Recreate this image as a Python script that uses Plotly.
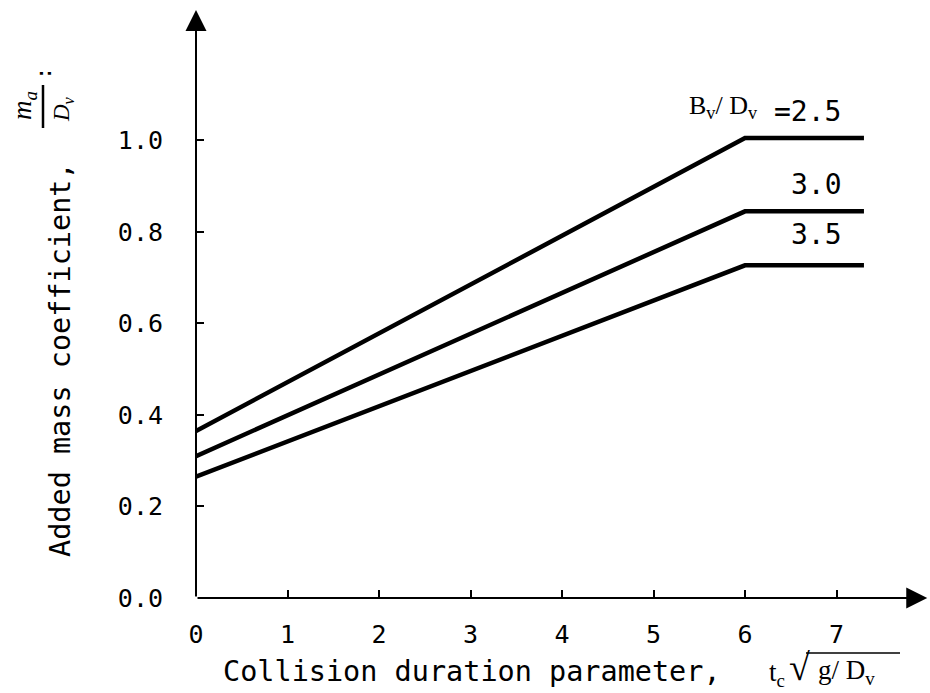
import plotly.graph_objects as go

# ---- data ----
x_pts = [0, 6, 7.3]
y_25 = [0.365, 1.005, 1.005]
y_30 = [0.31, 0.845, 0.845]
y_35 = [0.265, 0.727, 0.727]
series_names = ["2.5", "3.0", "3.5"]

x_ticks = [0, 1, 2, 3, 4, 5, 6, 7]
x_ticklabels = ["0", "1", "2", "3", "4", "5", "6", "7"]
y_ticks = [0.0, 0.2, 0.4, 0.6, 0.8, 1.0]
y_ticklabels = ["0.0", "0.2", "0.4", "0.6", "0.8", "1.0"]

X_MAX = 8.0
Y_MAX = 1.285

W, H = 930, 693
L, R, T, B = 196, 2, 10, 95
PW, PH = W - L - R, H - T - B

MONO = "DejaVu Sans Mono"
SERIF = "Liberation Serif"


def px(xp):
    return (xp - L) / PW


def py(yp):
    return (H - B - yp) / PH


def label(xp, yp, text, family, size, angle=0):
    return dict(x=px(xp), y=py(yp), xref="paper", yref="paper", showarrow=False,
                xanchor="center", yanchor="middle", textangle=angle,
                text=text, font=dict(family=family, size=size, color="black"))


fig = go.Figure()
for ys, nm in zip([y_25, y_30, y_35], series_names):
    fig.add_trace(go.Scatter(x=x_pts, y=ys, mode="lines", name=nm,
                             line=dict(color="black", width=4.5),
                             showlegend=False, cliponaxis=False))

ann = []
# axis arrows
ann.append(dict(x=0, y=Y_MAX, ax=0, ay=0, xref="x", yref="y", axref="x", ayref="y",
                text="", showarrow=True, arrowhead=2, arrowwidth=2, arrowsize=2.1,
                arrowcolor="black"))
ann.append(dict(x=X_MAX * 0.999, y=0, ax=0, ay=0, xref="x", yref="y", axref="x", ayref="y",
                text="", showarrow=True, arrowhead=2, arrowwidth=2, arrowsize=2.1,
                arrowcolor="black"))

# x axis title
ann.append(label(472, 671, "Collision duration parameter,", MONO, 28.5))
ann.append(label(777, 674, "t<sub>c</sub>", SERIF, 27))
ann.append(label(799, 667, "√", SERIF, 38))
ann.append(label(846, 672, "g/ D<sub>v</sub>", SERIF, 27))

# y axis title
ann.append(label(60, 360, "Added mass coefficient,", MONO, 28.5, -90))
ann.append(label(24, 106, "<i>m<sub>a</sub></i>", SERIF, 27, -90))
ann.append(label(63, 109, "<i>D<sub>v</sub></i>", SERIF, 23, -90))
ann.append(label(43, 74, ":", MONO, 22, -90))

# curve labels
ann.append(label(723, 107, "B<sub>v</sub>/ D<sub>v</sub>", SERIF, 26))
ann.append(label(807, 112, "=2.5", MONO, 28))
ann.append(label(816, 184, "3.0", MONO, 28))
ann.append(label(816, 234, "3.5", MONO, 28))

shapes = [
    # fraction bar of m_a / D_v
    dict(type="line", xref="paper", yref="paper", x0=px(43), x1=px(43), y0=py(85), y1=py(128),
         line=dict(color="black", width=2.5)),
    # radical overline
    dict(type="line", xref="paper", yref="paper", x0=px(806), x1=px(900), y0=py(653), y1=py(653),
         line=dict(color="black", width=1.5)),
]

fig.update_layout(
    width=W, height=H,
    margin=dict(l=L, r=R, t=T, b=B, pad=0),
    paper_bgcolor="white", plot_bgcolor="white",
    annotations=ann, shapes=shapes,
    xaxis=dict(range=[0, X_MAX], tickvals=x_ticks, ticktext=x_ticklabels,
               ticks="inside", ticklen=8, tickwidth=1.5, tickcolor="black",
               showline=False, showgrid=False, zeroline=False,
               ticklabelstandoff=19,
               tickfont=dict(family=MONO, size=25, color="black")),
    yaxis=dict(range=[0, Y_MAX], tickvals=y_ticks, ticktext=y_ticklabels,
               ticks="inside", ticklen=8, tickwidth=1.5, tickcolor="black",
               showline=False, showgrid=False, zeroline=False,
               ticklabelstandoff=32,
               tickfont=dict(family=MONO, size=25, color="black")),
)

fig.write_html("out.html")
